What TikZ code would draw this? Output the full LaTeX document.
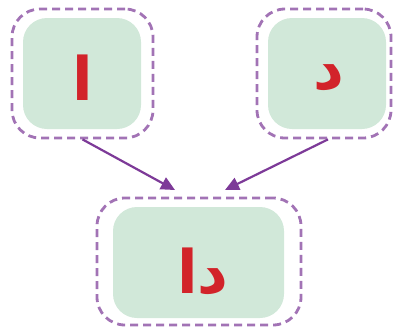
\documentclass[tikz,border=0pt]{standalone}
\usepackage{fontspec}
\newfontfamily\arabicfont[Script=Arabic]{DejaVu Sans}
\TeXXeTstate=1
\usetikzlibrary{arrows.meta}
\definecolor{boxgreen}{HTML}{D1E8D9}
\definecolor{dashpurple}{HTML}{A273B5}
\definecolor{arrowpurple}{HTML}{7D3A98}
\definecolor{letterred}{HTML}{D2232A}
\tikzset{
  outerbox/.style={draw=dashpurple, line width=2.8pt, dash pattern=on 8pt off 5pt, rounded corners=28pt, inner sep=0pt},
  innerbox/.style={fill=boxgreen, rounded corners=24pt, inner sep=0pt},
  letter/.style={text=letterred, font=\arabicfont\bfseries\fontsize{60}{66}\selectfont, inner sep=0pt},
  link/.style={draw=arrowpurple, line width=2.2pt, -{Triangle[length=14pt,width=13pt]}}
}
\begin{document}
\begin{tikzpicture}[x=1pt,y=-1pt]
\useasboundingbox (0,0) rectangle (393,327);
% left
\node[outerbox, minimum width=141pt, minimum height=129pt] (a) at (82.5,73.5) {};
\node[innerbox, minimum width=118pt, minimum height=111pt] (ai) at (82,73.5) {};
\node[letter] (al) at (83,78) {\beginR ا\endR};
% right
\node[outerbox, minimum width=134pt, minimum height=129pt] (b) at (324,73.5) {};
\node[innerbox, minimum width=118pt, minimum height=111pt] (bi) at (327,73.5) {};
\node[letter] (bl) at (329,78) {\beginR د\endR};
% bottom
\node[outerbox, minimum width=204pt, minimum height=127pt] (c) at (199,261.5) {};
\node[innerbox, minimum width=171pt, minimum height=111pt] (ci) at (198.5,262.5) {};
\node[letter] (cl) at (203,272) {\beginR دا\endR};
\coordinate (t1) at (175,190);
\coordinate (t2) at (225,190);
\coordinate (bs) at ([xshift=4pt]b.south);
\draw[link] (a.south) -- (t1);
\draw[link] (bs) -- (t2);
\end{tikzpicture}
\end{document}
